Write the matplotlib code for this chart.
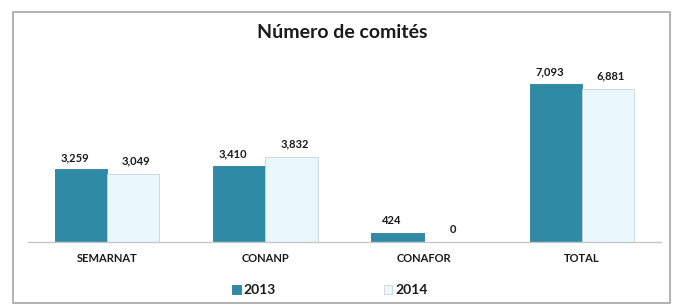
import numpy as np
import matplotlib.pyplot as plt
from matplotlib.patches import Rectangle

# Data
categories = ['SEMARNAT', 'CONANP', 'CONAFOR', 'TOTAL']
years = ['2013', '2014']
vals_2013 = [3259, 3410, 424, 7093]
vals_2014 = [3049, 3832, 0, 6881]
labels_2013 = ['3,259', '3,410', '424', '7,093']
labels_2014 = ['3,049', '3,832', '0', '6,881']

plt.rcParams['font.family'] = ['Lato', 'DejaVu Sans']

fig = plt.figure(figsize=(6.74, 3.05), dpi=100)
fig.patch.set_facecolor('white')

# outer chart frame
fig.patches.append(Rectangle((13 / 674, 0.005), 657 / 674, 1 - 12 / 305 - 0.005,
                             transform=fig.transFigure, fill=False,
                             edgecolor='#a6a6a6', linewidth=1.2))

ax = fig.add_axes([28 / 674, 63 / 305, 633 / 674, 182 / 305])
x = np.arange(len(categories))
w = 0.33

ax.bar(x - w / 2, vals_2013, w, color='#2f8aa6', edgecolor='#2a7f99',
       linewidth=0.6, label=years[0])
ax.bar(x + w / 2, vals_2014, w, color='#eaf7fc', edgecolor='#c9d3d8',
       linewidth=0.6, label=years[1])

for xi, v, lab in zip(x - w / 2, vals_2013, labels_2013):
    ax.text(xi - 0.04, v + 280, lab, ha='center', va='bottom',
            fontsize=8, fontweight='bold', color='#1a1a1a')
for xi, v, lab in zip(x + w / 2, vals_2014, labels_2014):
    ax.text(xi + 0.02, v + 330, lab, ha='center', va='bottom',
            fontsize=8, fontweight='bold', color='#1a1a1a')

ax.set_xlim(-0.5, 3.5)
ax.set_ylim(0, 8160)
ax.set_yticks([])
ax.set_xticks(x)
ax.set_xticklabels(categories, fontsize=8, fontweight='bold', color='#1a1a1a')
ax.tick_params(axis='x', length=0, pad=8)
for s in ['top', 'right', 'left']:
    ax.spines[s].set_visible(False)
ax.spines['bottom'].set_color('#c8c8c8')
ax.spines['bottom'].set_linewidth(1.0)

fig.text(342 / 674, 1 - 33 / 305, 'Número de comités', ha='center',
         va='center', fontsize=14, fontweight='bold', color='#1a1a1a')

leg = fig.legend(loc='center', bbox_to_anchor=(330 / 674, 1 - 290 / 305),
                 ncol=2, frameon=False, fontsize=10, handlelength=0.6,
                 handleheight=0.6, handletextpad=0.2, columnspacing=7.8)
for t in leg.get_texts():
    t.set_fontweight('bold')
    t.set_color('#1a1a1a')

fig.savefig('out.png', dpi=100)
